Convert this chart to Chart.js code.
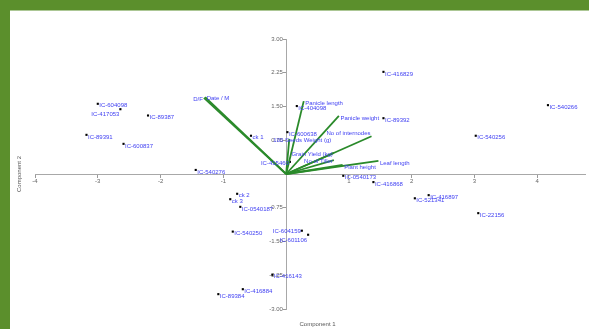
<!DOCTYPE html>
<html>
<head>
<meta charset="utf-8">
<script src="https://cdn.jsdelivr.net/npm/chart.js@4/dist/chart.umd.min.js"></script>
<style>
  html, body { margin: 0; padding: 0; background: #ffffff; }
  #wrap { width: 589px; height: 329px; position: relative; }
</style>
</head>
<body>
<div id="wrap"><canvas id="biplot" width="589" height="329"></canvas></div>
<script>
// Genotype scores on the first two principal components
const genotypes = ['IC-604098','IC-417053','IC-89387','IC-89391','IC-600837','IC-540276','ck 1',
  'IC-404098','IC-600638','IC-415460','IC-416829','IC-89392','IC-540256','IC-540266',
  'IC-0540173','IC-416868','IC-416897','IC-521341','IC-22156','ck 2','ck 3','IC-0540187',
  'IC-540250','IC-604159','IC-601106','IC-416143','IC-416884','IC-89384'];
const comp1 = [-3.00,-2.64,-2.20,-3.18,-2.59,-1.44,-0.56,
  0.17,0.02,0.06,1.55,1.55,3.02,4.17,
  0.91,1.39,2.27,2.05,3.06,-0.78,-0.89,-0.73,
  -0.85,0.25,0.35,-0.22,-0.69,-1.08];
const comp2 = [1.56,1.44,1.30,0.87,0.67,0.09,0.85,
  1.51,0.93,0.27,2.27,1.24,0.85,1.53,
  -0.04,-0.18,-0.47,-0.54,-0.87,-0.44,-0.56,-0.73,
  -1.28,-1.26,-1.35,-2.24,-2.56,-2.67];

// Trait loadings (biplot vectors)
const traits = ['D/F','Date / M','Panicle length','Panicle weight','No of internodes',
  '100 Seeds Weight (g)','Grain Yield (kg)','No of Tiller','Plant height','Leaf length'];
const load1 = [-1.31,-1.29,0.28,0.84,1.36,0.05,0.76,0.76,0.90,1.47];
const load2 = [1.69,1.71,1.62,1.29,0.84,0.78,0.47,0.31,0.20,0.29];

// Axis ticks
const xTicks = [-4,-3,-2,-1,0,1,2,3,4];
const yTicks = [-3,-2.25,-1.5,-0.75,0,0.75,1.5,2.25,3];

// Labels that sit to the left of their anchor
const leftLabels = new Set(['IC-417053','IC-415460','IC-604159','IC-601106',
  'D/F','No of internodes','Grain Yield (kg)','No of Tiller']);
const labelShift = { 'IC-417053': 4, 'IC-601106': 5, 'No of internodes': -4, 'Date / M': -1 };
const centeredLabels = new Set(['100 Seeds Weight (g)']);

const LABEL_BLUE = '#3f3ff2';
const VEC_GREEN = '#2a8a2a';
const FONT = '"Liberation Sans", Arial, sans-serif';

const datasets = traits.map((t, i) => ({
  type: 'scatter',
  label: t,
  data: [{x: 0, y: 0}, {x: load1[i], y: load2[i]}],
  showLine: true,
  borderColor: VEC_GREEN,
  borderWidth: 1.8,
  pointRadius: 0,
  clip: false
}));
datasets.push({
  type: 'scatter',
  label: 'Genotypes',
  data: genotypes.map((g, i) => ({x: comp1[i], y: comp2[i]})),
  pointStyle: 'rect',
  pointRadius: 1.5,
  backgroundColor: '#000',
  borderColor: '#000',
  borderWidth: 0,
  clip: false
});

const framePlugin = {
  id: 'frame',
  beforeDraw(chart) {
    const c = chart.ctx;
    c.save();
    c.fillStyle = '#ffffff';
    c.fillRect(0, 0, chart.width, chart.height);
    c.fillStyle = '#5b8f2c';
    c.fillRect(0, 0, chart.width, 10.5);
    c.fillRect(0, 0, 10, chart.height);
    c.restore();
  },
  afterDraw(chart) {
    const c = chart.ctx;
    const a = chart.chartArea;
    c.save();
    c.fillStyle = '#555';
    c.font = '6px ' + FONT;
    c.textAlign = 'center';
    c.textBaseline = 'middle';
    c.fillText('Component 1', chart.scales.x.getPixelForValue(0.5), 324);
    c.translate(19, (a.top + a.bottom) / 2);
    c.rotate(-Math.PI / 2);
    c.fillText('Component 2', 0, 0);
    c.restore();
  }
};

const labelPlugin = {
  id: 'pointLabels',
  afterDatasetsDraw(chart) {
    const c = chart.ctx;
    const xs = chart.scales.x, ys = chart.scales.y;
    c.save();
    c.font = '6px ' + FONT;
    c.fillStyle = LABEL_BLUE;
    c.textBaseline = 'middle';
    const put = (txt, px, py) => {
      const dy = labelShift[txt] || 0;
      if (centeredLabels.has(txt)) {
        c.textAlign = 'center';
        c.fillText(txt, px + 13, py + 1 + dy);
      } else if (leftLabels.has(txt)) {
        c.textAlign = 'right';
        c.fillText(txt, px - 1, py + 1 + dy);
      } else {
        c.textAlign = 'left';
        c.fillText(txt, px + 1.5, py + 2 + dy);
      }
    };
    traits.forEach((t, i) => put(t, xs.getPixelForValue(load1[i]), ys.getPixelForValue(load2[i])));
    genotypes.forEach((g, i) => put(g, xs.getPixelForValue(comp1[i]), ys.getPixelForValue(comp2[i])));
    c.restore();
  }
};

new Chart(document.getElementById('biplot'), {
  data: { datasets },
  options: {
    responsive: false,
    animation: false,
    devicePixelRatio: 1,
    layout: { padding: { left: 35, right: 0, top: 39, bottom: 20 } },
    plugins: { legend: { display: false }, tooltip: { enabled: false } },
    scales: {
      x: {
        type: 'linear',
        min: -4, max: 4.76,
        position: { y: 0 },
        afterBuildTicks: s => { s.ticks = xTicks.map(v => ({ value: v })); },
        ticks: {
          callback: v => (v === 0 ? '' : String(v)),
          font: { size: 6, family: FONT },
          color: '#666',
          padding: 1,
          maxRotation: 0,
          autoSkip: false
        },
        grid: { drawOnChartArea: false, drawTicks: true, tickLength: 3, color: '#9a9a9a' },
        border: { color: '#a8a8a8', width: 1 }
      },
      y: {
        type: 'linear',
        min: -3, max: 3,
        position: { x: 0 },
        afterBuildTicks: s => { s.ticks = yTicks.map(v => ({ value: v })); },
        ticks: {
          // trailing space keeps the value clear of the tick mark
          callback: v => (v === 0 ? '' : v.toFixed(2) + '  '),
          font: { size: 6, family: FONT },
          color: '#666',
          padding: 4,
          autoSkip: false
        },
        grid: { drawOnChartArea: false, drawTicks: true, tickLength: 3, color: '#9a9a9a' },
        border: { color: '#a8a8a8', width: 1 }
      }
    }
  },
  plugins: [framePlugin, labelPlugin]
});
</script>
</body>
</html>
